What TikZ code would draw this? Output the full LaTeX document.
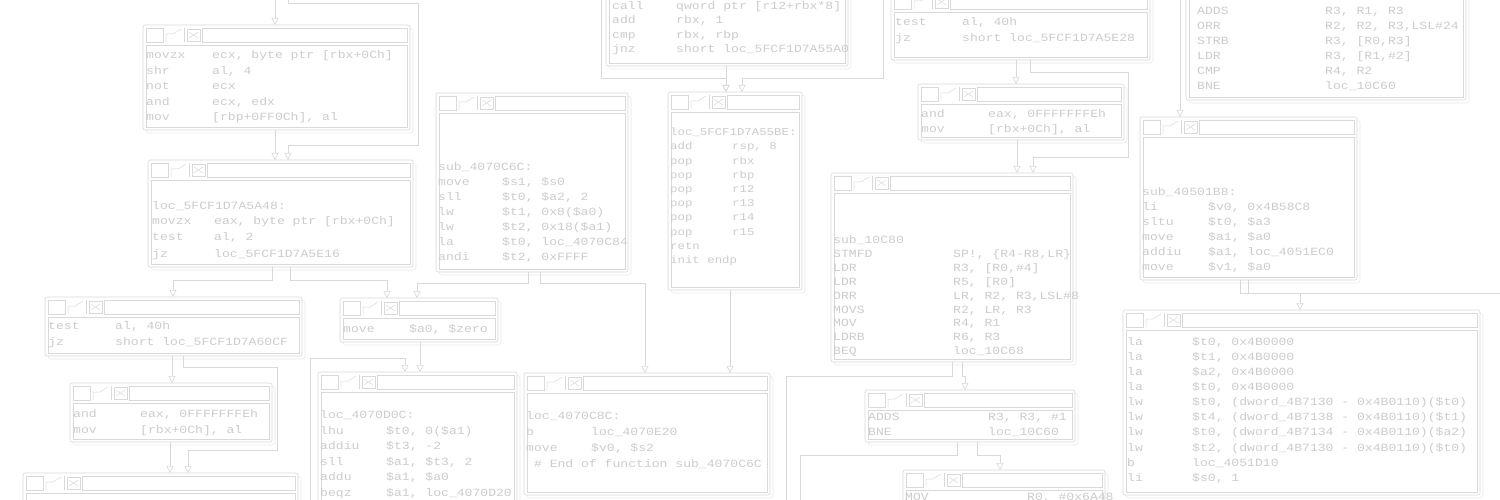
\documentclass[tikz,border=0pt]{standalone}
\usepackage{fontspec}
\usetikzlibrary{arrows.meta,calc}
\newfontfamily\idafont[FakeStretch=1.19]{Liberation Mono}
\definecolor{linec}{gray}{0.85}
\definecolor{txtc}{gray}{0.80}
\definecolor{shdc}{gray}{0.92}
\newlength{\insw}
\newcommand{\insn}[2]{\makebox[\insw][l]{#1}#2}
\tikzset{
  blockbox/.style={draw=linec, fill=white, rounded corners=2pt, inner sep=0pt, outer sep=0pt, line width=0.6pt},
  shadowbox/.style={draw=shdc, line width=0.6pt, rounded corners=3pt},
  iconl/.style={draw=linec, line width=0.5pt},
  edge/.style={draw=linec, line width=0.6pt, -{Triangle[open,length=7pt,width=7pt]}},
  plainedge/.style={draw=linec, line width=0.6pt},
  code/.style={font={\idafont\fontsize{11pt}{#1pt}\selectfont}, align=left, inner sep=0pt, text=txtc, anchor=north west},
  smallcode/.style={font={\idafont\fontsize{10.4pt}{#1pt}\selectfont}, align=left, inner sep=0pt, text=txtc, anchor=north west},
}
\newcommand{\idablock}[5]{%
  \draw[shadowbox] (#2+3,#3+3) rectangle (#4+3,#5+3);
  \node[blockbox, anchor=north west, minimum width={(#4-#2)*1pt}, minimum height={(#5-#3)*1pt}] (#1) at (#2,#3) {};
  \draw[iconl] (#2+3,#3+3) rectangle (#2+20,#3+17);
  \draw[iconl] (#2+23,#3+17) -- (#2+23,#3+9) -- (#2+30,#3+9) -- (#2+38,#3+4);
  \draw[iconl] (#2+41,#3+3) -- (#2+41,#3+17);
  \draw[iconl] (#2+44,#3+4) rectangle (#2+57,#3+16);
  \draw[iconl] (#2+46,#3+7) -- (#2+55,#3+13) (#2+46,#3+13) -- (#2+55,#3+7);
  \draw[iconl] (#2+59,#3+3) rectangle (#4-3,#3+17);
  \draw[iconl] (#2+3,#3+20) rectangle (#4-3,#5-3);
}
\begin{document}
\begin{tikzpicture}[x=1pt,y=-1pt]
\useasboundingbox (0,0) rectangle (1500,500);
\clip (0,0) rectangle (1500,500);
\fill[white] (0,0) rectangle (1500,500);

% ---------- free ends ----------
\coordinate (tA) at (275,-8);
\coordinate (tB) at (288,-8);
\coordinate (bG) at (310,510);
\coordinate (tI1) at (601,-8);
\coordinate (tI2) at (883,-8);
\coordinate (tS) at (1180,-8);
\coordinate (rS) at (1510,293);
\coordinate (bN) at (786,510);
\coordinate (bO) at (800,510);

% ---------- blocks ----------
\idablock{A}{143}{25}{410}{130}
\idablock{B}{148}{160}{413}{267}
\idablock{C}{45}{297}{302}{356}
\idablock{D}{340}{298}{498}{342}
\idablock{E}{70}{383}{272}{442}
\idablock{F}{23}{473}{298}{530}
\idablock{G}{318}{372}{517}{530}
\idablock{H}{436}{93}{628}{272}
\idablock{I}{668}{92}{802}{290}
\idablock{J}{606}{-40}{848}{66}
\idablock{K}{524}{373}{770}{495}
\idablock{L}{891}{-8}{1150}{60}
\idablock{M}{918}{84}{1124}{140}
\idablock{N}{831}{173}{1073}{362}
\idablock{O}{865}{390}{1075}{442}
\idablock{Q}{903}{470}{1105}{530}
\idablock{R}{1186}{-40}{1466}{100}
\idablock{S}{1140}{117}{1357}{280}
\idablock{T}{1123}{310}{1480}{495}

% ---------- code ----------
\node[code=15.5] (A-t) at (146,47.6) {\global\insw=66pt\strut\insn{movzx}{ecx, byte ptr [rbx+0Ch]}\\
\insn{shr}{al, 4}\\ \insn{not}{ecx}\\ \insn{and}{ecx, edx}\\ \insn{mov}{[rbp+0FF0Ch], al}};

\node[code=16] (B-t) at (152,197.6) {\global\insw=62pt\strut loc\_5FCF1D7A5A48:\\
\insn{movzx}{eax, byte ptr [rbx+0Ch]}\\ \insn{test}{al, 2}\\ \insn{jz}{loc\_5FCF1D7A5E16}};

\node[code=16] (C-t) at (48,317.6) {\global\insw=67pt\strut\insn{test}{al, 40h}\\ \insn{jz}{short loc\_5FCF1D7A60CF}};

\node[code=16] (D-t) at (343,320.6) {\global\insw=66pt\strut\insn{move}{\$a0, \$zero}};

\node[code=16] (E-t) at (73,405.6) {\global\insw=67pt\strut\insn{and}{eax, 0FFFFFFFEh}\\ \insn{mov}{[rbx+0Ch], al}};

\node[code=15.5] (G-t) at (320,407.6) {\global\insw=66pt\strut loc\_4070D0C:\\
\insn{lhu}{\$t0, 0(\$a1)}\\ \insn{addiu}{\$t3, -2}\\ \insn{sll}{\$a1, \$t3, 2}\\ \insn{addu}{\$a1, \$a0}\\ \insn{beqz}{\$a1, loc\_4070D20}};

\node[code=15] (H-t) at (438,159.6) {\global\insw=64pt\strut sub\_4070C6C:\\
\insn{move}{\$s1, \$s0}\\ \insn{sll}{\$t0, \$a2, 2}\\ \insn{lw}{\$t1, 0x8(\$a0)}\\ \insn{lw}{\$t2, 0x18(\$a1)}\\ \insn{la}{\$t0, loc\_4070C84}\\ \insn{andi}{\$t2, 0xFFFF}};

\node[smallcode=14.2] (I-t) at (670,125.6) {\global\insw=62pt\strut loc\_5FCF1D7A55BE:\\
\insn{add}{rsp, 8}\\ \insn{pop}{rbx}\\ \insn{pop}{rbp}\\ \insn{pop}{r12}\\ \insn{pop}{r13}\\ \insn{pop}{r14}\\ \insn{pop}{r15}\\ retn\\ init endp};

\node[code=14.2] (J-t) at (612,-0.4) {\global\insw=64pt\strut\insn{call}{qword ptr [r12+rbx*8]}\\ \insn{add}{rbx, 1}\\ \insn{cmp}{rbx, rbp}\\ \insn{jnz}{short loc\_5FCF1D7A55A0}};

\node[code=16] (K-t) at (526,407.6) {\global\insw=65pt\strut loc\_4070C8C:\\
\insn{b}{loc\_4070E20}\\ \insn{move}{\$v0, \$s2}\\ \ \# End of function sub\_4070C6C};

\node[code=16] (L-t) at (895,14.6) {\global\insw=67pt\strut\insn{test}{al, 40h}\\ \insn{jz}{short loc\_5FCF1D7A5E28}};

\node[code=15] (M-t) at (921,106.6) {\global\insw=67pt\strut\insn{and}{eax, 0FFFFFFFEh}\\ \insn{mov}{[rbx+0Ch], al}};

\node[code=13.9] (N-t) at (833,233.6) {\global\insw=120pt\strut sub\_10C80\\
\insn{STMFD}{SP!, \{R4-R8,LR\}}\\ \insn{LDR}{R3, [R0,\#4]}\\ \insn{LDR}{R5, [R0]}\\ \insn{ORR}{LR, R2, R3,LSL\#8}\\ \insn{MOVS}{R2, LR, R3}\\ \insn{MOV}{R4, R1}\\ \insn{LDRB}{R6, R3}\\ \insn{BEQ}{loc\_10C68}};

\node[code=15] (O-t) at (868,409.6) {\global\insw=120pt\strut\insn{ADDS}{R3, R3, \#1}\\ \insn{BNE}{loc\_10C60}};

\node[code=15] (Q-t) at (905,489.6) {\global\insw=122pt\strut\insn{MOV}{R0, \#0x6A48}};

\node[code=15] (R-t) at (1197,3.6) {\global\insw=128pt\strut\insn{ADDS}{R3, R1, R3}\\ \insn{ORR}{R2, R2, R3,LSL\#24}\\ \insn{STRB}{R3, [R0,R3]}\\ \insn{LDR}{R3, [R1,\#2]}\\ \insn{CMP}{R4, R2}\\ \insn{BNE}{loc\_10C60}};

\node[code=15] (S-t) at (1142,184.6) {\global\insw=66pt\strut sub\_40501B8:\\
\insn{li}{\$v0, 0x4B58C8}\\ \insn{sltu}{\$t0, \$a3}\\ \insn{move}{\$a1, \$a0}\\ \insn{addiu}{\$a1, loc\_4051EC0}\\ \insn{move}{\$v1, \$a0}};

\node[code=15.1] (T-t) at (1127,334.6) {\global\insw=65pt\strut\insn{la}{\$t0, 0x4B0000}\\ \insn{la}{\$t1, 0x4B0000}\\ \insn{la}{\$a2, 0x4B0000}\\ \insn{la}{\$t0, 0x4B0000}\\
\insn{lw}{\$t0, (dword\_4B7130 - 0x4B0110)(\$t0)}\\ \insn{lw}{\$t4, (dword\_4B7138 - 0x4B0110)(\$t1)}\\ \insn{lw}{\$t0, (dword\_4B7134 - 0x4B0110)(\$a2)}\\ \insn{lw}{\$t2, (dword\_4B7130 - 0x4B0110)(\$t0)}\\ \insn{b}{loc\_4051D10}\\ \insn{li}{\$s0, 1}};

% ---------- connectors ----------
\draw[edge] (tA) -- ([xshift=132pt]A.north west);
\draw[edge] (tB) -- (288,3) -- (418,3) -- (418,145) -| ([xshift=140pt]B.north west);
\draw[edge] ([xshift=132pt]A.south west) -- ([xshift=127pt]B.north west);
\draw[edge] ([xshift=124pt]B.south west) -- ++(0,13) -| ([xshift=128pt]C.north west);
\draw[edge] ([xshift=142pt]B.south west) -- ++(0,13) -| ([xshift=47pt]D.north west);
\draw[edge] ([xshift=92pt]H.south west) -- ++(0,11) -| ([xshift=77pt]D.north west);
\draw[edge] ([xshift=104pt]H.south west) -- ++(0,11) -| ([xshift=121pt]K.north west);
\draw[edge] ([xshift=62pt]I.south west) -- ([xshift=206pt]K.north west);
\draw[edge] ([xshift=127pt]C.south west) -- ([xshift=102pt]E.north west);
\draw[edge] ([xshift=138pt]C.south west) -- ++(0,11) -- (277,367) -- (277,450) -| ([xshift=165pt]F.north west);
\draw[edge] ([xshift=100pt]E.south west) -- ([xshift=147pt]F.north west);
\draw[edge] ([xshift=80pt]D.south west) -- ([xshift=102pt]G.north west);
\draw[edge] (bG) -- (310,358) -| ([xshift=87pt]G.north west);
\draw[edge] ([xshift=120pt]J.south west) -- ([xshift=58pt]I.north west);
\draw[edge] (tI1) -- (601,78) -| ([xshift=58pt]I.north west);
\draw[edge] (tI2) -- (883,78) -| ([xshift=74pt]I.north west);
\draw[edge] ([xshift=125pt]L.south west) -- ([xshift=98pt]M.north west);
\draw[edge] ([xshift=139pt]L.south west) -- ++(0,12) -- (1128,72) -- (1128,157) -| ([xshift=202pt]N.north west);
\draw[edge] ([xshift=99pt]M.south west) -- ([xshift=186pt]N.north west);
\draw[edge] (tS) -- ([xshift=40pt]S.north west);
\draw[edge] ([xshift=100pt]S.south west) -- ++(0,13) -| ([xshift=177pt]T.north west);
\draw[plainedge] ([xshift=108pt]S.south west) -- ++(0,13) -- (rS);
\draw[edge] ([xshift=131pt]N.south west) -- ++(0,14) -| ([xshift=100pt]O.north west);
\draw[plainedge] ([xshift=121pt]N.south west) -- ++(0,14) -| (bN);
\draw[edge] ([xshift=112pt]O.south west) -- ++(0,13) -| ([xshift=97pt]Q.north west);
\draw[plainedge] ([xshift=92pt]O.south west) -- ++(0,13) -| (bO);
\end{tikzpicture}
\end{document}
